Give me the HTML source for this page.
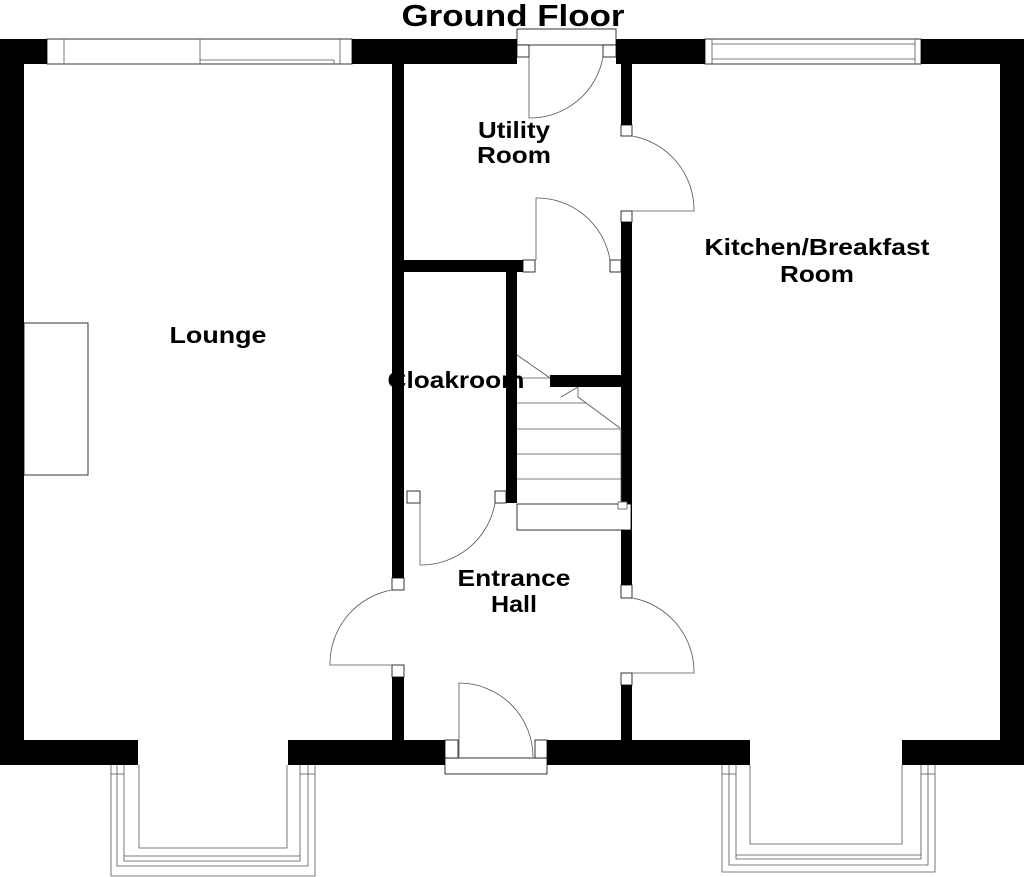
<!DOCTYPE html>
<html><head><meta charset="utf-8"><style>
html,body{margin:0;padding:0;background:#fff;}
svg{display:block;}
text{font-family:"Liberation Sans",Arial,sans-serif;font-weight:bold;fill:#000;text-anchor:middle;}
</style></head><body>
<svg width="1024" height="877" viewBox="0 0 1024 877" xmlns="http://www.w3.org/2000/svg">
<g fill="#000">
<rect x="0" y="39" width="47" height="25"/>
<rect x="352" y="39" width="165" height="25"/>
<rect x="616" y="39" width="89" height="25"/>
<rect x="921" y="39" width="103" height="25"/>
<rect x="0" y="39" width="24" height="726"/>
<rect x="1000" y="39" width="24" height="726"/>
<rect x="0" y="740" width="138" height="25"/>
<rect x="288" y="740" width="157" height="25"/>
<rect x="547" y="740" width="203" height="25"/>
<rect x="902" y="740" width="122" height="25"/>
<rect x="392" y="64" width="12" height="514"/>
<rect x="392" y="677" width="12" height="63"/>
<rect x="621" y="64" width="11" height="61"/>
<rect x="621" y="222" width="11" height="363"/>
<rect x="621" y="685" width="11" height="55"/>
<rect x="404" y="260" width="119" height="12"/>
<rect x="506" y="272" width="11" height="231"/>
<rect x="550" y="375" width="71" height="12"/>
</g>
<g fill="#fff" stroke="#000" stroke-width="0.8">
<rect x="47" y="39" width="305" height="25"/>
<rect x="705" y="39" width="216" height="25"/>
<rect x="517" y="29" width="99" height="16"/>
<rect x="517" y="45" width="12" height="12"/>
<rect x="603" y="45" width="13" height="12"/>
<rect x="621" y="125" width="11" height="11"/>
<rect x="621" y="211" width="11" height="11"/>
<rect x="523" y="260" width="12" height="12"/>
<rect x="610" y="260" width="11" height="12"/>
<rect x="407" y="491" width="13" height="12"/>
<rect x="495" y="491" width="11" height="12"/>
<rect x="392" y="578" width="12" height="12"/>
<rect x="392" y="665" width="12" height="12"/>
<rect x="621" y="585" width="11" height="13"/>
<rect x="621" y="673" width="11" height="12"/>
<rect x="445" y="758" width="102" height="16"/>
<rect x="445" y="740" width="13" height="18"/>
<rect x="535" y="740" width="12" height="18"/>
<rect x="24" y="323" width="64" height="152"/>
<rect x="517" y="504" width="114" height="26"/>
</g>
<g fill="none" stroke="#555" stroke-width="0.8">
<line x1="64" y1="39" x2="64" y2="64"/><line x1="200" y1="39" x2="200" y2="64"/>
<line x1="200" y1="60" x2="334" y2="60"/><line x1="334" y1="60" x2="334" y2="64"/><line x1="340" y1="39" x2="340" y2="64"/>
<line x1="712" y1="44" x2="915" y2="44"/><line x1="712" y1="59" x2="915" y2="59"/>
<line x1="712" y1="39" x2="712" y2="64"/><line x1="915" y1="39" x2="915" y2="64"/>
<path d="M529 57 V118 A74 74 0 0 0 603 57"/>
<path d="M632 136 A75 75 0 0 1 694 211 H632"/>
<path d="M536 260 V198 A74 74 0 0 1 610 260"/>
<path d="M420 503 V565 A75 75 0 0 0 495 503"/>
<path d="M392 590 A75 75 0 0 0 330 665 H392"/>
<path d="M632 598 A75 75 0 0 1 694 673 H632"/>
<path d="M459 757 V683 A74 74 0 0 1 533 757"/>
<line x1="517" y1="355" x2="550" y2="378"/>
<line x1="517" y1="378" x2="550" y2="378"/>
<path d="M561 397 L578 387 V397 L620 428"/>
<line x1="517" y1="403" x2="586" y2="403"/>
<line x1="517" y1="429" x2="621" y2="429"/>
<line x1="517" y1="454" x2="621" y2="454"/>
<line x1="517" y1="479" x2="621" y2="479"/>
<line x1="621" y1="429" x2="621" y2="502"/>
<rect x="618" y="502" width="9" height="7" fill="#fff"/>
<path d="M111 765 V876 H315 V765"/>
<path d="M117 765 V866 H308 V765"/>
<path d="M124 765 V861 H300 V765"/>
<line x1="124" y1="856" x2="300" y2="856"/>
<path d="M139 765 V848 H287 V765"/>
<line x1="111" y1="774" x2="124" y2="774"/><line x1="300" y1="774" x2="315" y2="774"/>
<path d="M722 765 V872 H935 V765"/>
<path d="M729 765 V865 H928 V765"/>
<path d="M736 765 V859 H921 V765"/>
<line x1="736" y1="855" x2="921" y2="855"/>
<path d="M750 765 V844 H902 V765"/>
<line x1="722" y1="774" x2="736" y2="774"/><line x1="921" y1="774" x2="935" y2="774"/>
</g>
<text x="513" y="26" font-size="31" textLength="223" lengthAdjust="spacingAndGlyphs">Ground Floor</text>
<text x="218" y="343" font-size="23" textLength="97" lengthAdjust="spacingAndGlyphs">Lounge</text>
<text x="514" y="138" font-size="23" textLength="72" lengthAdjust="spacingAndGlyphs">Utility</text>
<text x="514" y="163" font-size="23" textLength="74" lengthAdjust="spacingAndGlyphs">Room</text>
<text x="817" y="255" font-size="23" textLength="225" lengthAdjust="spacingAndGlyphs">Kitchen/Breakfast</text>
<text x="817" y="282" font-size="23" textLength="74" lengthAdjust="spacingAndGlyphs">Room</text>
<text x="456" y="388" font-size="23" textLength="137" lengthAdjust="spacingAndGlyphs">Cloakroom</text>
<text x="514" y="586" font-size="23" textLength="113" lengthAdjust="spacingAndGlyphs">Entrance</text>
<text x="514" y="612" font-size="23" textLength="46" lengthAdjust="spacingAndGlyphs">Hall</text>
</svg>
</body></html>
